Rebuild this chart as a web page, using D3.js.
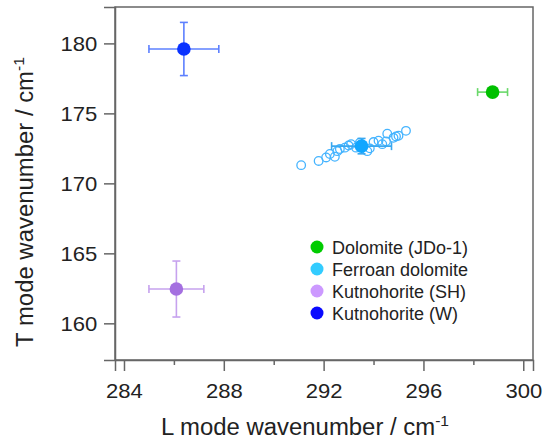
<!DOCTYPE html>
<html><head><meta charset="utf-8">
<script src="https://cdn.jsdelivr.net/npm/d3@7"></script>
<style>body{margin:0;background:#fff}svg{display:block;font-family:"Liberation Sans",Arial,sans-serif}</style>
</head><body><svg id="c" width="543" height="441"></svg>
<script>
// ---- data ----
const seriesNames = ["Dolomite (JDo-1)", "Ferroan dolomite", "Kutnohorite (SH)", "Kutnohorite (W)"];
const legendColors = ["#00cc00", "#33ccff", "#cc99ff", "#0a0aff"];
const markerColors = ["#00c000", "#10a6ff", "#a46fe0", "#0a33ff"];
const errorColors = ["#6ad86a", "#3aa8f0", "#c6a2ee", "#5d80ff"];
// summary points: L, T, L error, T error
const summaryL = [298.77, 293.52, 286.1, 286.4];
const summaryT = [176.52, 172.66, 162.45, 179.6];
const summaryLErr = [0.6, 1.2, 1.1, 1.4];
const summaryTErr = [0.0, 0.55, 2.0, 1.9];
// individual ferroan dolomite measurements
const ferroanL = [291.1, 291.8, 292.1, 292.25, 292.45, 292.55, 292.65, 292.85, 293.0, 293.1, 293.3, 293.45, 293.75, 293.85, 294.0, 294.2, 294.35, 294.5, 294.55, 294.8, 294.9, 295.0, 295.3];
const ferroanT = [171.3, 171.6, 171.85, 172.1, 171.9, 172.3, 172.45, 172.55, 172.7, 172.8, 172.55, 172.9, 172.3, 172.5, 172.95, 173.05, 172.8, 173.0, 173.55, 173.25, 173.35, 173.4, 173.75];
const xTicks = [284, 288, 292, 296, 300];
const xMinorTicks = [286, 290, 294, 298];
const yTicks = [160, 165, 170, 175, 180];

const svg = d3.select("#c");
const L = 115, R = 533, T = 7, B = 360;
const x = d3.scaleLinear().domain([283.64, 300.39]).range([L, R]);
const y = d3.scaleLinear().domain([157.38, 182.6]).range([B, T]);
const axisCol = "#666";

// frame
svg.append("rect").attr("x", L).attr("y", T).attr("width", R - L).attr("height", B - T)
  .attr("fill", "none").attr("stroke", axisCol).attr("stroke-width", 1.5);

// axes
svg.append("g").attr("transform", `translate(0,${B})`)
  .call(d3.axisBottom(x).tickValues(xTicks).tickSize(11).tickPadding(12).tickFormat(d3.format("d")));
svg.append("g").attr("transform", `translate(0,${B})`)
  .call(d3.axisBottom(x).tickValues(xMinorTicks).tickSize(5).tickFormat(""))
  .call(g => g.select(".domain").remove());
svg.append("g").attr("transform", `translate(${L},0)`)
  .call(d3.axisLeft(y).tickValues(yTicks).tickSize(11).tickPadding(6).tickFormat(d3.format("d")));
svg.selectAll(".domain").attr("stroke", axisCol).attr("stroke-width", 1.5);
svg.selectAll(".tick line").attr("stroke", axisCol).attr("stroke-width", 1.5);
svg.selectAll(".tick text").attr("fill", "#222").style("font-size", "21px")
  .style("font-family", '"Liberation Sans",Arial,sans-serif')
  .attr("transform", "scale(1.05,1)");

// titles
const xt = svg.append("text").attr("transform", "translate(305,435) scale(1.04,1)").attr("text-anchor", "middle")
  .attr("fill", "#222").style("font-size", "23px");
xt.append("tspan").text("L mode wavenumber / cm");
xt.append("tspan").attr("dy", -9).style("font-size", "15px").text("-1");
const yt = svg.append("text").attr("transform", "translate(33,202) rotate(-90) scale(1.04,1)").attr("text-anchor", "middle")
  .attr("fill", "#222").style("font-size", "23px");
yt.append("tspan").text("T mode wavenumber / cm");
yt.append("tspan").attr("dy", -9).style("font-size", "15px").text("-1");

// open circles
svg.append("g").selectAll("circle").data(ferroanL.map((v, i) => [v, ferroanT[i]])).join("circle")
  .attr("cx", d => x(d[0])).attr("cy", d => y(d[1])).attr("r", 4.3)
  .attr("fill", "none").attr("stroke", "#45b4ff").attr("stroke-width", 1.3);

// summary points with error bars
const cap = 4;
summaryL.forEach((lv, i) => {
  const g = svg.append("g");
  const c = errorColors[i];
  const cx = x(lv), cy = y(summaryT[i]);
  const x0 = x(lv - summaryLErr[i]), x1 = x(lv + summaryLErr[i]);
  g.append("line").attr("x1", x0).attr("x2", x1).attr("y1", cy).attr("y2", cy).attr("stroke", c).attr("stroke-width", 1.6);
  [x0, x1].forEach(xx => g.append("line").attr("x1", xx).attr("x2", xx).attr("y1", cy - cap).attr("y2", cy + cap).attr("stroke", c).attr("stroke-width", 1.6));
  if (summaryTErr[i] > 0) {
    const y0 = y(summaryT[i] - summaryTErr[i]), y1 = y(summaryT[i] + summaryTErr[i]);
    g.append("line").attr("x1", cx).attr("x2", cx).attr("y1", y0).attr("y2", y1).attr("stroke", c).attr("stroke-width", 1.6);
    [y0, y1].forEach(yy => g.append("line").attr("x1", cx - cap).attr("x2", cx + cap).attr("y1", yy).attr("y2", yy).attr("stroke", c).attr("stroke-width", 1.6));
  }
  g.append("circle").attr("cx", cx).attr("cy", cy).attr("r", 6.8).attr("fill", markerColors[i]);
});

// legend
const lg = svg.append("g").attr("transform", "translate(317,247)");
seriesNames.forEach((n, i) => {
  const yy = i * 22;
  lg.append("circle").attr("cx", 0).attr("cy", yy).attr("r", 6.5).attr("fill", legendColors[i]);
  lg.append("text").attr("x", 15).attr("y", yy + 6.5).attr("fill", "#222").style("font-size", "18px").text(n);
});
</script></body></html>
